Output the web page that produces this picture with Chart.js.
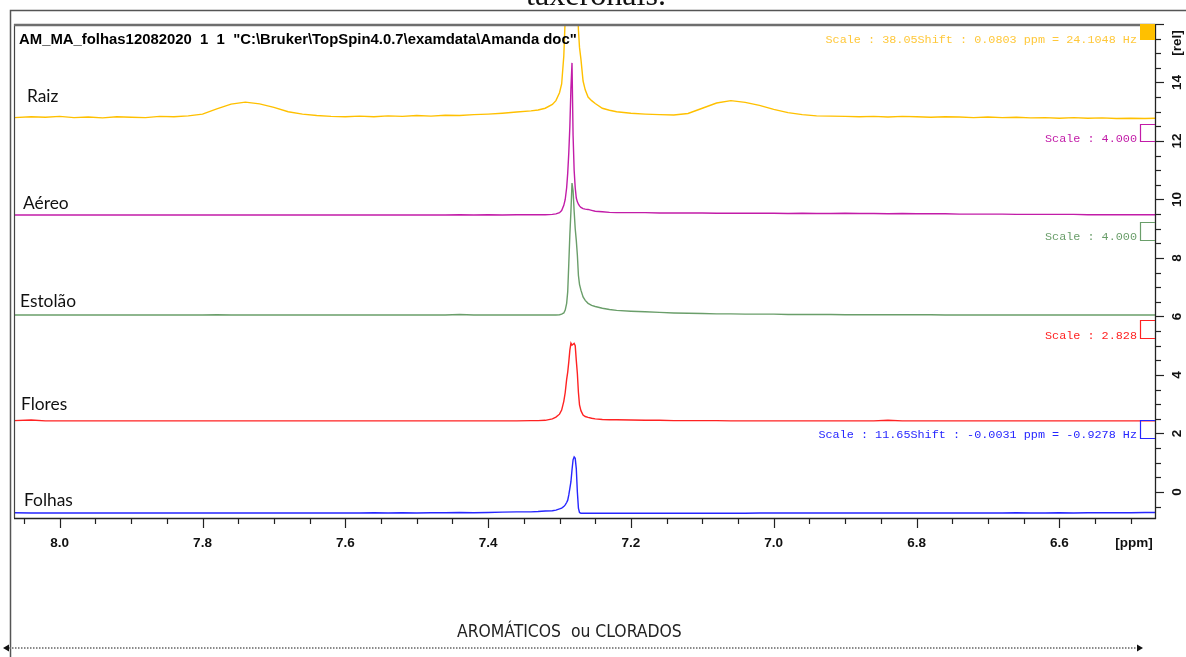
<!DOCTYPE html>
<html>
<head>
<meta charset="utf-8">
<script src="https://cdn.jsdelivr.net/npm/chart.js@4.4.0/dist/chart.umd.min.js"></script>
<style>
html,body{margin:0;padding:0;background:#fff;}
canvas{display:block;}
</style>
</head>
<body>
<canvas id="c" width="1186" height="657"></canvas>
<script>
// ---- chemical shift grid (ppm) ----
const ppm = [
  8.064, 8.04, 8.02, 8.00, 7.98, 7.96, 7.94, 7.92, 7.90, 7.88, 7.86, 7.84, 7.82, 7.80, 7.78, 7.76, 7.74, 7.72, 7.70, 7.68,
  7.66, 7.64, 7.62, 7.60, 7.58, 7.56, 7.54, 7.52, 7.50, 7.48, 7.46, 7.44, 7.42, 7.40, 7.38, 7.36, 7.34,
  7.33, 7.32, 7.31, 7.305, 7.30, 7.297, 7.294, 7.292, 7.29, 7.2885, 7.287, 7.2855, 7.284, 7.2825, 7.281, 7.2795, 7.278,
  7.2765, 7.275, 7.2735, 7.272, 7.27, 7.267, 7.264, 7.26, 7.255, 7.25, 7.24, 7.23, 7.22,
  7.20, 7.18, 7.16, 7.14, 7.12, 7.10, 7.08, 7.06, 7.04, 7.02, 7.00, 6.98, 6.96, 6.94, 6.92, 6.90, 6.88, 6.86, 6.84,
  6.82, 6.80, 6.78, 6.76, 6.74, 6.72, 6.70, 6.68, 6.66, 6.64, 6.62, 6.60, 6.58, 6.56, 6.54, 6.52, 6.50, 6.48, 6.466
];

// ---- series intensities [rel] ----
const raiz = [
  12.80, 12.83, 12.81, 12.84, 12.80, 12.82, 12.79, 12.83, 12.81, 12.80, 12.84, 12.83, 12.86, 12.92, 13.10, 13.26, 13.33, 13.27, 13.15, 13.00,
  12.92, 12.87, 12.84, 12.83, 12.85, 12.83, 12.86, 12.84, 12.87, 12.85, 12.88, 12.87, 12.90, 12.92, 12.95, 12.99, 13.03,
  13.06, 13.12, 13.25, 13.38, 13.65, 13.95, 14.9, 16.2, 18.5, 21, 24, 27, 29, 29, 27, 24, 21,
  19, 17, 15.8, 15.2, 14.8, 14.05, 13.75, 13.5, 13.38, 13.28, 13.12, 13.05, 13.00,
  12.95, 12.92, 12.90, 12.89, 12.94, 13.12, 13.30, 13.38, 13.32, 13.22, 13.08, 12.97, 12.90, 12.86, 12.85, 12.84, 12.83, 12.84, 12.82,
  12.84, 12.83, 12.81, 12.83, 12.82, 12.80, 12.82, 12.80, 12.81, 12.79, 12.80, 12.78, 12.80, 12.78, 12.79, 12.77, 12.78, 12.77, 12.78
];
const aereo = [
  9.47, 9.47, 9.47, 9.47, 9.47, 9.47, 9.47, 9.47, 9.47, 9.47, 9.47, 9.47, 9.47, 9.47, 9.47, 9.47, 9.47, 9.47, 9.47, 9.47,
  9.47, 9.47, 9.47, 9.47, 9.47, 9.47, 9.47, 9.47, 9.47, 9.47, 9.47, 9.48, 9.47, 9.48, 9.47, 9.48, 9.48,
  9.48, 9.48, 9.49, 9.51, 9.55, 9.62, 9.80, 10.0, 10.4, 10.9, 11.6, 12.5, 13.8, 14.67, 12.2, 11.0, 10.4,
  10.05, 9.92, 9.84, 9.78, 9.73, 9.69, 9.67, 9.66, 9.63, 9.60, 9.58, 9.56, 9.55,
  9.55, 9.55, 9.54, 9.54, 9.54, 9.54, 9.53, 9.53, 9.53, 9.53, 9.53, 9.52, 9.53, 9.52, 9.52, 9.53, 9.52, 9.52, 9.51,
  9.52, 9.51, 9.51, 9.51, 9.50, 9.50, 9.50, 9.50, 9.49, 9.49, 9.49, 9.49, 9.49, 9.48, 9.48, 9.48, 9.48, 9.48, 9.48
];
const estolao = [
  6.05, 6.05, 6.05, 6.05, 6.05, 6.05, 6.05, 6.05, 6.05, 6.05, 6.05, 6.05, 6.05, 6.05, 6.06, 6.05, 6.05, 6.05, 6.05, 6.05,
  6.05, 6.05, 6.05, 6.05, 6.05, 6.05, 6.05, 6.05, 6.05, 6.05, 6.05, 6.07, 6.05, 6.05, 6.05, 6.05, 6.05,
  6.05, 6.05, 6.05, 6.05, 6.06, 6.08, 6.12, 6.22, 6.45, 6.85, 7.8, 8.8, 9.6, 10.56, 10.3, 9.6, 9.0,
  8.6, 8.1, 7.4, 7.1, 6.9, 6.67, 6.55, 6.45, 6.38, 6.34, 6.28, 6.24, 6.21,
  6.18, 6.16, 6.14, 6.12, 6.11, 6.10, 6.09, 6.09, 6.08, 6.08, 6.08, 6.07, 6.07, 6.07, 6.07, 6.06, 6.06, 6.06, 6.06,
  6.06, 6.06, 6.06, 6.05, 6.05, 6.05, 6.05, 6.05, 6.05, 6.05, 6.05, 6.05, 6.05, 6.05, 6.05, 6.05, 6.05, 6.05, 6.05
];
const flores = [
  2.44, 2.46, 2.43, 2.43, 2.43, 2.43, 2.43, 2.43, 2.43, 2.43, 2.43, 2.43, 2.43, 2.43, 2.43, 2.43, 2.43, 2.43, 2.43, 2.43,
  2.43, 2.43, 2.43, 2.43, 2.43, 2.43, 2.43, 2.43, 2.43, 2.43, 2.43, 2.43, 2.43, 2.43, 2.43, 2.43, 2.44,
  2.44, 2.45, 2.50, 2.56, 2.66, 2.80, 3.10, 3.40, 3.85, 4.10, 4.45, 4.85, 5.09, 5.02, 5.05, 5.08, 5.00,
  4.50, 4.05, 3.40, 2.98, 2.78, 2.63, 2.58, 2.55, 2.52, 2.50, 2.48, 2.47, 2.47,
  2.46, 2.45, 2.45, 2.44, 2.44, 2.44, 2.44, 2.43, 2.43, 2.43, 2.43, 2.43, 2.43, 2.43, 2.43, 2.43, 2.43, 2.43, 2.45,
  2.43, 2.43, 2.43, 2.43, 2.43, 2.43, 2.43, 2.43, 2.43, 2.43, 2.43, 2.43, 2.43, 2.43, 2.43, 2.43, 2.43, 2.43, 2.43
];
const folhas = [
  -0.71, -0.72, -0.72, -0.72, -0.72, -0.72, -0.72, -0.72, -0.72, -0.72, -0.72, -0.72, -0.72, -0.72, -0.72, -0.72, -0.72, -0.72, -0.72, -0.72,
  -0.72, -0.72, -0.72, -0.72, -0.72, -0.71, -0.72, -0.71, -0.72, -0.71, -0.71, -0.70, -0.71, -0.70, -0.69, -0.68, -0.68,
  -0.67, -0.65, -0.64, -0.62, -0.58, -0.55, -0.50, -0.44, -0.36, -0.28, -0.10, 0.12, 0.35, 0.75, 1.10, 1.20, 1.15,
  0.80, 0.00, -0.55, -0.70, -0.73, -0.73, -0.73, -0.73, -0.73, -0.73, -0.73, -0.73, -0.73,
  -0.73, -0.73, -0.73, -0.73, -0.73, -0.73, -0.73, -0.73, -0.73, -0.72, -0.72, -0.72, -0.72, -0.72, -0.72, -0.72, -0.72, -0.72, -0.72,
  -0.72, -0.72, -0.72, -0.72, -0.72, -0.72, -0.72, -0.72, -0.71, -0.72, -0.72, -0.71, -0.72, -0.71, -0.71, -0.71, -0.71, -0.70, -0.70
];

const seriesNames = ['Raiz', 'Aéreo', 'Estolão', 'Flores', 'Folhas'];
const seriesValues = [raiz, aereo, estolao, flores, folhas];
const seriesColors = ['#FFC000', '#C21CA8', '#6A9E6A', '#FF2222', '#2626FF'];
const scaleNotes = [
  'Scale : 38.05Shift : 0.0803 ppm = 24.1048 Hz',
  'Scale : 4.000',
  'Scale : 4.000',
  'Scale : 2.828',
  'Scale : 11.65Shift : -0.0031 ppm = -0.9278 Hz'
];
const xTickLabels = ['8.0', '7.8', '7.6', '7.4', '7.2', '7.0', '6.8', '6.6'];
const yTickLabels = ['0', '2', '4', '6', '8', '10', '12', '14'];
const titleText = 'AM_MA_folhas12082020  1  1  "C:\\Bruker\\TopSpin4.0.7\\examdata\\Amanda doc"';
const regionText = 'AROMÁTICOS  ou CLORADOS';
const cutText = 'taxeronais.';

function fitFont(ctx, text, weight, family, targetW) {
  ctx.font = weight + ' 20px ' + family;
  const w = ctx.measureText(text).width;
  return weight + ' ' + (20 * targetW / w).toFixed(2) + 'px ' + family;
}

const decor = {
  id: 'decor',
  beforeDraw(chart) {
    const ctx = chart.ctx;
    ctx.save();
    ctx.fillStyle = '#fff';
    ctx.fillRect(0, 0, chart.width, chart.height);
    ctx.restore();
  },
  afterDraw(chart) {
    const ctx = chart.ctx;
    const a = chart.chartArea;
    const xs = chart.scales.x, ys = chart.scales.y;
    ctx.save();

    // cut-off document text at the very top
    ctx.fillStyle = '#111';
    ctx.font = fitFont(ctx, cutText, 'normal', '"Liberation Serif", serif', 140);
    ctx.textAlign = 'left';
    ctx.textBaseline = 'alphabetic';
    ctx.fillText(cutText, 526, 5);

    // outer document frame
    ctx.strokeStyle = '#555';
    ctx.lineWidth = 1.5;
    ctx.beginPath();
    ctx.moveTo(10.5, 657); ctx.lineTo(10.5, 10.5); ctx.lineTo(1186, 10.5);
    ctx.stroke();

    // plot frame
    ctx.strokeStyle = '#444';
    ctx.lineWidth = 1.2;
    ctx.beginPath(); ctx.moveTo(a.left + 0.5, a.top); ctx.lineTo(a.left + 0.5, a.bottom); ctx.stroke();
    ctx.strokeStyle = '#6e6e6e';
    ctx.lineWidth = 2.5;
    ctx.beginPath(); ctx.moveTo(a.left, a.top + 1); ctx.lineTo(a.right, a.top + 1); ctx.stroke();
    ctx.strokeStyle = '#222';
    ctx.lineWidth = 1.3;
    ctx.beginPath(); ctx.moveTo(a.left, a.bottom + 0.5); ctx.lineTo(a.right + 1, a.bottom + 0.5); ctx.stroke();
    ctx.beginPath(); ctx.moveTo(a.right + 0.5, a.top); ctx.lineTo(a.right + 0.5, a.bottom + 1); ctx.stroke();

    // x ticks (every 0.05 ppm, long every 0.2)
    ctx.lineWidth = 1.2;
    for (let k = 650; k <= 805; k += 5) {
      const v = k / 100;
      if (v < xs.min || v > xs.max) continue;
      const px = Math.round(xs.getPixelForValue(v)) + 0.5;
      const len = (k % 20 === 0) ? 10 : 6;
      ctx.beginPath(); ctx.moveTo(px, a.bottom); ctx.lineTo(px, a.bottom + len); ctx.stroke();
    }
    ctx.fillStyle = '#111';
    ctx.font = 'bold 13.5px "Liberation Sans", Arial, sans-serif';
    ctx.textAlign = 'center';
    ctx.textBaseline = 'middle';
    xTickLabels.forEach(l => ctx.fillText(l, xs.getPixelForValue(parseFloat(l)), a.bottom + 25));
    ctx.fillText('[ppm]', 1134, a.bottom + 25);

    // y ticks (every 0.5, long every 2)
    for (let k = -2; k <= 32; k++) {
      const v = k / 2;
      if (v < ys.min || v > ys.max) continue;
      const py = Math.round(ys.getPixelForValue(v)) + 0.5;
      const len = (k % 4 === 0) ? 9 : 6;
      ctx.beginPath(); ctx.moveTo(a.right, py); ctx.lineTo(a.right + len, py); ctx.stroke();
    }
    yTickLabels.forEach(l => {
      const py = ys.getPixelForValue(parseFloat(l));
      ctx.save();
      ctx.translate(1177, py);
      ctx.rotate(-Math.PI / 2);
      ctx.fillText(l, 0, 0);
      ctx.restore();
    });
    ctx.save();
    ctx.translate(1177, a.top + 19);
    ctx.rotate(-Math.PI / 2);
    ctx.fillText('[rel]', 0, 0);
    ctx.restore();

    // TopSpin title
    ctx.fillStyle = '#000';
    ctx.font = fitFont(ctx, titleText, 'bold', '"Liberation Sans", Arial, sans-serif', 558);
    ctx.textAlign = 'left';
    ctx.textBaseline = 'alphabetic';
    ctx.fillText(titleText, 19, 44);

    // scale markers and notes
    const boxes = [null, [124, 141], [222, 240], [320, 338], [420, 438]];
    const noteY = [40, 139, 237, 336, 435];
    ctx.fillStyle = seriesColors[0];
    ctx.fillRect(1140, a.top, a.right - 1140, 16);
    ctx.lineWidth = 1.2;
    for (let i = 1; i < 5; i++) {
      const [t, b] = boxes[i];
      ctx.strokeStyle = seriesColors[i];
      ctx.beginPath();
      ctx.moveTo(a.right, t + 0.5); ctx.lineTo(1140.5, t + 0.5); ctx.lineTo(1140.5, b + 0.5); ctx.lineTo(a.right, b + 0.5);
      ctx.stroke();
    }
    ctx.font = '11.8px "Liberation Mono", "Courier New", monospace';
    ctx.textAlign = 'right';
    ctx.textBaseline = 'middle';
    scaleNotes.forEach((n, i) => {
      ctx.fillStyle = i === 0 ? '#FFC83A' : seriesColors[i];
      ctx.fillText(n, 1137, noteY[i]);
    });

    // series names
    const labelPos = [[27, 102], [23, 209], [20, 307], [21, 410], [24, 506]];
    ctx.fillStyle = '#111';
    ctx.font = fitFont(ctx, 'Estolão', 'normal', 'Lato, "Open Sans", sans-serif', 56);
    ctx.textAlign = 'left';
    ctx.textBaseline = 'alphabetic';
    seriesNames.forEach((n, i) => ctx.fillText(n, labelPos[i][0], labelPos[i][1]));

    // region label and double arrow
    ctx.fillStyle = '#222';
    ctx.font = fitFont(ctx, regionText, 'normal', '"Liberation Sans Narrow", "DejaVu Sans Condensed", sans-serif', 225);
    ctx.textAlign = 'left';
    ctx.fillText(regionText, 457, 637);
    ctx.strokeStyle = '#8a8a8a';
    ctx.lineWidth = 2;
    ctx.setLineDash([1.5, 1.5]);
    ctx.beginPath(); ctx.moveTo(9, 648); ctx.lineTo(1137, 648); ctx.stroke();
    ctx.setLineDash([]);
    ctx.fillStyle = '#111';
    ctx.beginPath(); ctx.moveTo(3, 648); ctx.lineTo(9, 644.5); ctx.lineTo(9, 651.5); ctx.closePath(); ctx.fill();
    ctx.beginPath(); ctx.moveTo(1143, 648); ctx.lineTo(1137, 644.5); ctx.lineTo(1137, 651.5); ctx.closePath(); ctx.fill();

    ctx.restore();
  }
};

new Chart(document.getElementById('c'), {
  type: 'line',
  data: {
    datasets: seriesNames.map((name, i) => ({
      label: name,
      data: ppm.map((p, j) => ({ x: p, y: seriesValues[i][j] })),
      borderColor: seriesColors[i],
      borderWidth: 1.4,
      pointRadius: 0,
      tension: 0,
      fill: false
    }))
  },
  options: {
    responsive: false,
    animation: false,
    events: [],
    layout: { padding: { left: 14, right: 31, top: 24, bottom: 139 } },
    plugins: { legend: { display: false }, tooltip: { enabled: false } },
    scales: {
      x: { type: 'linear', min: 6.466, max: 8.064, reverse: true, display: false },
      y: { type: 'linear', min: -0.89, max: 16.0, display: false }
    }
  },
  plugins: [decor]
});
</script>
</body>
</html>
